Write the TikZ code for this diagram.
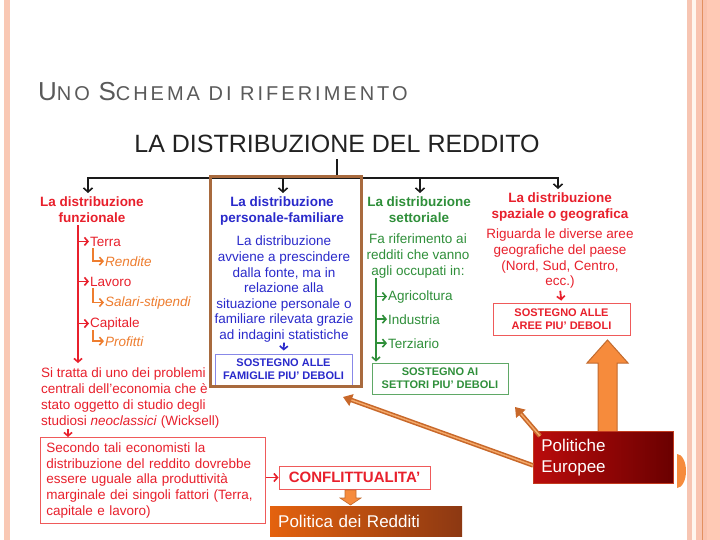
\documentclass[tikz,border=0pt]{standalone}
\usepackage{fontspec}
\setmainfont{Liberation Sans}
\newfontfamily\titlefont[LetterSpace=15]{Liberation Sans}
\usetikzlibrary{arrows.meta}
\definecolor{redc}{HTML}{E8202C}
\definecolor{orc}{HTML}{EE7D2F}
\definecolor{bluec}{HTML}{2A2ACB}
\definecolor{greenc}{HTML}{2F8F3A}
\definecolor{titlegray}{HTML}{5A5A5A}
\definecolor{headc}{HTML}{222222}
\definecolor{blackc}{HTML}{1A1A1A}
\definecolor{brownc}{HTML}{A86A3E}
\definecolor{boxred}{HTML}{EF5A5A}
\definecolor{boxblue}{HTML}{8888E8}
\definecolor{boxgreen}{HTML}{5FA866}
\definecolor{blockf}{HTML}{F68B3C}
\definecolor{blockd}{HTML}{C26A2E}
\definecolor{ordk}{HTML}{C8682A}
\definecolor{orlt}{HTML}{F4A96A}
\definecolor{peL}{HTML}{BA0C0C}
\definecolor{peR}{HTML}{6A0000}
\definecolor{peB}{HTML}{C23A1E}
\definecolor{polL}{HTML}{E4620E}
\definecolor{polR}{HTML}{8C3812}
\definecolor{bandA}{HTML}{F9C8B4}
\definecolor{bandB}{HTML}{F7C5B2}
\definecolor{bandC}{HTML}{FFF6EE}
\definecolor{bandD}{HTML}{F9C4B0}
\definecolor{bandE}{HTML}{E39060}
\definecolor{bandF}{HTML}{FAC2AE}
\definecolor{bandG}{HTML}{FFC9B5}
\begin{document}
\begin{tikzpicture}[x=1pt,y=-1pt,
  hdr/.style={font=\fontsize{13.5}{16}\selectfont\bfseries, align=center, inner sep=0pt, anchor=north},
  txt/.style={font=\fontsize{13.5}{15.6}\selectfont, align=center, inner sep=0pt, anchor=north},
  itm/.style={font=\fontsize{13.5}{15.6}\selectfont, inner sep=0pt, anchor=base west},
  subitm/.style={font=\fontsize{13.5}{15.6}\selectfont\itshape, text=orc, inner sep=0pt, anchor=base west},
  sbox/.style={draw, line width=0.9pt, font=\fontsize{11}{13}\selectfont\bfseries, align=center, inner sep=0pt},
  blk/.style={line width=1.8pt, draw=blackc},
  blkarr/.style={blk, shorten >=4pt, -{Straight Barb[length=4pt,width=9pt,line width=1.6pt]}},
  carr/.style={line width=1.8pt, -{Straight Barb[length=3.5pt,width=8pt,line width=1.6pt]}},
  thinarr/.style={line width=4.5pt, draw=ordk, -{Triangle[length=9pt,width=12pt]}},
  thinin/.style={line width=1.4pt, draw=orlt, shorten >=9pt}
]
\useasboundingbox (0,0) rectangle (720,540);
\fill[white] (0,0) rectangle (720,540);
% side bands
\fill[bandA] (4,0) rectangle (10,540);
\fill[bandB] (687,0) rectangle (692,540);
\fill[bandC] (692,0) rectangle (696,540);
\fill[bandD] (696,0) rectangle (702,540);
\fill[bandE] (702,0) rectangle (703.2,540);
\fill[bandF] (703.2,0) rectangle (707,540);
\fill[bandG] (707,0) rectangle (720,540);

% titles
\node[anchor=base west, inner sep=0pt, text=titlegray] (title) at (38,101)
  {\titlefont\fontsize{26}{26}\selectfont U\fontsize{20}{20}\selectfont NO \fontsize{26}{26}\selectfont S\fontsize{20}{20}\selectfont CHEMA DI RIFERIMENTO};
\node[font=\fontsize{25}{25}\selectfont, text=headc, inner sep=0pt] (h) at (337,144) {LA DISTRIBUZIONE DEL REDDITO};

% column headers
\node[hdr, text=redc] (c1) at (92,197) {La distribuzione\\funzionale};
\node[hdr, text=bluec] (c2) at (282,197) {La distribuzione\\personale-familiare};
\node[hdr, text=greenc] (c3) at (419,197) {La distribuzione\\settoriale};
\node[hdr, text=redc] (c4) at (560,193) {La distribuzione\\spaziale o geografica};

% black connectors
\coordinate (jc) at (337,178);
\coordinate (j1) at (88,178);
\coordinate (j2) at (283,178);
\coordinate (j3) at (420,178);
\coordinate (j4) at (558,178);
\draw[blk, shorten <=6pt] (h.south) -- (jc);
\draw[blk, line cap=rect] (j1) -- (j4);
\draw[blkarr] (j1) -- (j1 |- c1.north);
\draw[blkarr] (j2) -- (j2 |- c2.north);
\draw[blkarr] (j3) -- (j3 |- c3.north);
\draw[blkarr] (j4) -- (j4 |- c4.north);

% column 1
\node[itm, text=redc] (t1) at (90,246) {Terra};
\node[subitm] (r1) at (105,266) {Rendite};
\node[itm, text=redc] (t2) at (90,286) {Lavoro};
\node[subitm] (r2) at (105,306) {Salari-stipendi};
\node[itm, text=redc] (t3) at (90,327) {Capitale};
\node[subitm] (r3) at (105,346) {Profitti};
\node[anchor=north west, inner sep=0pt, align=left, text=redc, font=\fontsize{13.5}{16}\selectfont] (p1) at (41,368)
  {Si tratta di uno dei problemi\\centrali dell'economia che è\\stato oggetto di studio degli\\studiosi \textit{neoclassici} (Wicksell)};
\coordinate (sx1) at (78,0);
\coordinate (hx) at (93,0);
\coordinate (ax) at (68,0);
\draw[carr, draw=redc, shorten <=2pt, shorten >=5pt] (c1.south -| sx1) -- (p1.north -| sx1);
\draw[carr, draw=redc, shorten >=1pt] (t1.west -| sx1) -- (t1.west);
\draw[carr, draw=redc, shorten >=1pt] (t2.west -| sx1) -- (t2.west);
\draw[carr, draw=redc, shorten >=1pt] (t3.west -| sx1) -- (t3.west);
\draw[carr, draw=orc, line width=1.5pt, shorten >=1pt] ([yshift=-2pt]t1.south -| hx) |- (r1.west);
\draw[carr, draw=orc, line width=1.5pt, shorten >=1pt] ([yshift=-2pt]t2.south -| hx) |- (r2.west);
\draw[carr, draw=orc, line width=1.5pt, shorten >=1pt] (t3.south -| hx) |- (r3.west);

\node[draw=boxred, line width=0.8pt, anchor=north west, text width=213pt, align=left, inner xsep=6pt, inner ysep=0pt, minimum height=86pt, text=redc, font=\fontsize{13.5}{15.6}\selectfont] (rb) at (40,437)
  {Secondo tali economisti la\\distribuzione del reddito dovrebbe\\essere uguale alla produttività\\marginale dei singoli fattori (Terra,\\capitale e lavoro)};
\draw[carr, draw=redc] (p1.south -| ax) -- (rb.north -| ax);
\node[draw=boxred, line width=1pt, minimum width=151pt, minimum height=23pt, inner sep=0pt, font=\fontsize{15}{15}\selectfont\bfseries, text=redc] (cf) at (354.5,477.5) {CONFLITTUALITA'};
\draw[carr, draw=redc] (rb.east |- cf.west) -- (cf.west);
\node[anchor=north west, minimum width=192pt, minimum height=30pt, left color=polL, right color=polR, text=white, font=\fontsize{17}{17}\selectfont, inner xsep=8pt, text width=176pt, align=left] (pol) at (270,506) {Politica dei Redditi};
\fill[blockf, draw=blockd, line width=0.6pt] (345,490) -- (356,490) -- (356,498) -- (361,498) -- (350.5,505) -- (340,498) -- (345,498) -- cycle;

% column 2
\node[txt, text=bluec] (b2) at (284,236)
  {La distribuzione\\avviene a prescindere\\dalla fonte, ma in\\relazione alla\\situazione personale o\\familiare rilevata grazie\\ad indagini statistiche};
\node[sbox, draw=boxblue, text=bluec, minimum width=137pt, minimum height=31pt] (s2) at (283.5,369.5) {SOSTEGNO ALLE\\FAMIGLIE PIU' DEBOLI};
\draw[carr, draw=bluec, shorten >=3pt] (b2.south) -- (s2.north);
\node[draw=brownc, line width=3pt, minimum width=151pt, minimum height=209pt, inner sep=0pt] (hl) at (285.5,281.5) {};

% column 3
\node[txt, text=greenc] (b3) at (418,234) {Fa riferimento ai\\redditi che vanno\\agli occupati in:};
\node[itm, text=greenc] (g1) at (388,300) {Agricoltura};
\node[itm, text=greenc] (g2) at (388,324) {Industria};
\node[itm, text=greenc] (g3) at (388,348) {Terziario};
\node[sbox, draw=boxgreen, text=greenc, minimum width=136pt, minimum height=31pt] (s3) at (440,378.5) {SOSTEGNO AI\\SETTORI PIU' DEBOLI};
\coordinate (gx) at (376,0);
\draw[carr, draw=greenc, shorten >=1pt] (b3.south -| gx) -- (s3.north -| gx);
\draw[carr, draw=greenc, shorten >=1pt] (g1.west -| gx) -- (g1.west);
\draw[carr, draw=greenc, shorten >=1pt] (g2.west -| gx) -- (g2.west);
\draw[carr, draw=greenc, shorten >=1pt] (g3.west -| gx) -- (g3.west);

% column 4
\node[txt, text=redc] (b4) at (560,229) {Riguarda le diverse aree\\geografiche del paese\\(Nord, Sud, Centro,\\ecc.)};
\node[sbox, draw=boxred, text=redc, minimum width=137pt, minimum height=32pt] (s4) at (561.5,319) {SOSTEGNO ALLE\\AREE PIU' DEBOLI};
\draw[carr, draw=redc, shorten <=2pt, shorten >=2pt] (b4.south) -- (s4.north);

% Politiche Europee and orange arrows
\fill[blockf, draw=blockd, line width=1pt] (598,432) -- (598,363) -- (587,363) -- (607.5,340) -- (628,363) -- (617,363) -- (617,432) -- cycle;
\coordinate (tA) at (343,397);
\coordinate (tB) at (515,407);
\node[anchor=north west, minimum width=140pt, minimum height=52pt, left color=peL, right color=peR, draw=peB, line width=0.8pt, text=white, text width=124pt, inner xsep=8pt, align=left, font=\fontsize{17}{21}\selectfont] (pe) at (533,431) {Politiche\\Europee};
\draw[thinarr] ([yshift=-8pt]pe.west) -- (tA);
\draw[thinin] ([yshift=-8pt]pe.west) -- (tA);
\draw[thinarr] ([xshift=7pt,yshift=-5pt]pe.north west) -- (tB);
\draw[thinin] ([xshift=7pt,yshift=-5pt]pe.north west) -- (tB);
\fill[blockf] (677,454) arc[start angle=-90, end angle=90, x radius=9, y radius=17] -- cycle;
\end{tikzpicture}
\end{document}
